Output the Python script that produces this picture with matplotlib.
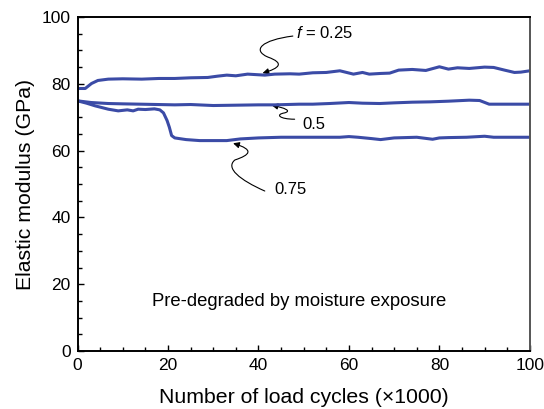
import matplotlib
matplotlib.use("Agg")
import matplotlib.pyplot as plt
from matplotlib.path import Path
from matplotlib.patches import FancyArrowPatch
from matplotlib.ticker import MultipleLocator

plt.rcParams['font.family'] = ['Liberation Sans', 'DejaVu Sans']
plt.rcParams['mathtext.fontset'] = 'custom'
plt.rcParams['mathtext.it'] = 'Liberation Sans:italic'
plt.rcParams['mathtext.rm'] = 'Liberation Sans'

# data
x_025 = [0, 1.7, 3.1, 4.5, 6.8, 10, 14.2, 18, 21.5, 25, 28.8, 31, 33, 35, 37.6, 41.4, 43.6, 47, 49,
         52, 55, 58, 61, 63, 64.5, 67, 69, 71, 74, 77, 80, 82, 84, 86.6, 90, 92, 94.4, 96.6, 98, 100]
y_025 = [78.6, 78.6, 80.1, 81.0, 81.4, 81.5, 81.4, 81.6, 81.6, 81.8, 81.9, 82.3, 82.6, 82.4, 82.9, 82.6,
         82.9, 83.0, 82.9, 83.3, 83.4, 83.9, 82.9, 83.4, 82.9, 83.1, 83.2, 84.1, 84.3, 84.0, 85.1, 84.4,
         84.8, 84.6, 85.0, 84.9, 84.1, 83.4, 83.5, 83.9]

x_05 = [0, 3, 6.8, 10, 14, 21.5, 25, 30, 35, 40, 43.6, 49, 52, 55.7, 60, 63, 66.8, 70, 74, 78, 82,
        86.6, 88.9, 91, 95, 100]
y_05 = [74.9, 74.4, 74.1, 74.0, 73.9, 73.7, 73.8, 73.5, 73.6, 73.7, 73.7, 73.9, 73.9, 74.1, 74.4, 74.2,
        74.1, 74.3, 74.5, 74.6, 74.8, 75.1, 75.0, 73.9, 73.9, 73.9]

x_075 = [0, 2, 3.9, 6.8, 9, 11, 12.3, 13.4, 15, 17, 18.2, 19, 19.8, 20.3, 20.8, 21.5, 24, 27, 30, 33,
         36, 40, 45, 50, 55, 58, 60, 62, 65, 67, 70, 75, 78.5, 80, 82, 86, 90, 92, 96, 100]
y_075 = [74.9, 74.2, 73.4, 72.4, 71.9, 72.2, 71.9, 72.4, 72.3, 72.5, 72.2, 71.3, 69.0, 67.0, 64.5, 63.8,
         63.3, 63.0, 63.0, 63.0, 63.5, 63.8, 64.0, 64.0, 64.0, 64.0, 64.2, 64.0, 63.6, 63.3, 63.8, 64.0,
         63.4, 63.8, 63.9, 64.0, 64.3, 64.0, 64.0, 64.0]

line_color = '#3b4ba6'

fig = plt.figure(figsize=(5.44, 4.09), dpi=100)
ax = fig.add_axes([0.1425, 0.1418, 0.8315, 0.8166])

for xs, ys in [(x_025, y_025), (x_05, y_05), (x_075, y_075)]:
    ax.plot(xs, ys, color=line_color, lw=2.2, solid_joinstyle='round')

ax.set_xlim(0, 100)
ax.set_ylim(0, 100)
ax.xaxis.set_major_locator(MultipleLocator(20))
ax.xaxis.set_minor_locator(MultipleLocator(5))
ax.yaxis.set_major_locator(MultipleLocator(20))
ax.yaxis.set_minor_locator(MultipleLocator(5))
ax.tick_params(which='both', direction='in', labelsize=12.5, width=1.0)
ax.tick_params(which='major', length=4.5, pad=5)
ax.tick_params(which='minor', length=3)
for s in ax.spines.values():
    s.set_linewidth(1.4)
ax.spines['right'].set_color('#555555')

ax.set_xlabel('Number of load cycles (\u00d71000)', fontsize=15.3, labelpad=11)
ax.set_ylabel('Elastic modulus (GPa)', fontsize=15.3, labelpad=5)


def squiggle(pts):
    codes = [Path.MOVETO] + [Path.CURVE4] * (len(pts) - 1)
    arr = FancyArrowPatch(path=Path(pts, codes), arrowstyle='-|>', mutation_scale=9,
                          lw=0.8, color='black', shrinkA=0, shrinkB=0)
    ax.add_patch(arr)


squiggle([(47.6, 94.3), (40.7, 93.1), (38.5, 90.1), (42.1, 88.0),
          (45.8, 86.2), (44.7, 84.7), (40.9, 83.2)])
squiggle([(48.0, 69.4), (44.7, 69.4), (43.6, 70.8), (45.8, 71.3),
          (47.4, 71.9), (45.8, 72.8), (42.9, 73.6)])
squiggle([(41.4, 47.9), (35.9, 51.2), (32.6, 54.8), (34.8, 57.2),
          (38.1, 58.7), (39.2, 60.2), (34.4, 62.2)])

ax.text(48.3, 95.2, '$f$ = 0.25', fontsize=12, va='center', ha='left')
ax.text(49.8, 67.7, '0.5', fontsize=12, va='center', ha='left')
ax.text(43.6, 48.5, '0.75', fontsize=12, va='center', ha='left')
ax.text(49.1, 14.9, 'Pre-degraded by moisture exposure', fontsize=13.3, ha='center', va='center')

fig.savefig('out.png', dpi=100)
